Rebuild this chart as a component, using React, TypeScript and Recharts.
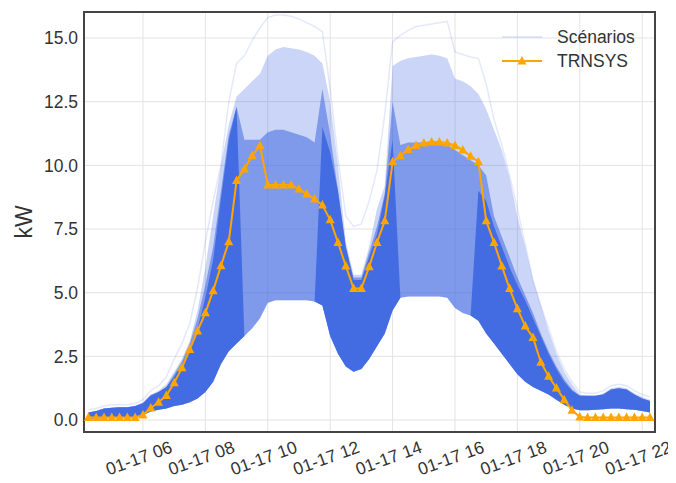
import { ComposedChart, Area, Line, XAxis, YAxis, CartesianGrid, ReferenceArea } from 'recharts'

const FONT = '"Liberation Sans", Arial, sans-serif'
const BLUE = '#4169e1'
const ORANGE = '#ffa500'
const TEXT = '#333'

// quarter-hour samples, 04:15 -> 22:15
const START_HOUR = 4.25
const STEP = 0.25

const X_TICKS = [6, 8, 10, 12, 14, 16, 18, 20, 22]
const Y_TICKS = [0, 2.5, 5, 7.5, 10, 12.5, 15]

// TRNSYS reference run (kW)
const trnsys = [
  0.1, 0.1, 0.1, 0.1,
  0.1, 0.1, 0.1, 0.2,
  0.47, 0.7, 0.96, 1.46,
  2.05, 2.77, 3.5, 4.21,
  5.08, 6.06, 7.0, 9.4,
  9.86, 10.38, 10.78, 9.23,
  9.23, 9.23, 9.23, 9.07,
  8.87, 8.68, 8.44, 7.86,
  6.97, 6.05, 5.16, 5.16,
  6.02, 6.97, 7.82, 10.14,
  10.38, 10.62, 10.78, 10.88,
  10.92, 10.92, 10.88, 10.78,
  10.6, 10.36, 10.14, 7.82,
  6.97, 6.05, 5.16, 4.37,
  3.69, 3.24, 2.27, 1.72,
  1.26, 0.8, 0.38, 0.12,
  0.1, 0.1, 0.1, 0.1,
  0.1, 0.1, 0.1, 0.1,
  0.1,
]

// scenario bundle, read as envelopes: lowest line, top of the solid mass,
// top of the medium-density stripes, top of the striped group, faint outlier
const scenLow = [
  0.05, 0.05, 0.08, 0.08,
  0.1, 0.1, 0.12, 0.2,
  0.33, 0.4, 0.45, 0.55,
  0.6, 0.7, 0.85, 1.1,
  1.5, 2.2, 2.7, 3.0,
  3.3, 3.6, 4.0, 4.6,
  4.7, 4.7, 4.7, 4.7,
  4.7, 4.65, 4.5, 3.3,
  2.6, 2.1, 1.9, 2.0,
  2.4, 2.9, 3.4, 4.3,
  4.8, 4.85, 4.85, 4.85,
  4.85, 4.85, 4.8, 4.4,
  4.2, 4.1, 3.9, 3.4,
  3.0, 2.6, 2.2, 1.8,
  1.5, 1.3, 1.15, 1.0,
  0.8, 0.6, 0.45, 0.38,
  0.38, 0.4, 0.42, 0.45,
  0.45, 0.42, 0.4, 0.35,
  0.3,
]

const denseHigh = [
  0.3, 0.35, 0.45, 0.48,
  0.5, 0.5, 0.55, 0.65,
  0.95, 1.1, 1.3, 1.7,
  2.2, 2.8, 3.6, 4.8,
  6.3, 8.7, 11.0, 12.3,
  3.3, 3.6, 4.0, 4.6,
  4.7, 4.7, 4.7, 4.7,
  4.7, 4.65, 11.5, 10.5,
  9.0, 6.8, 5.5, 5.5,
  6.4, 7.3, 8.8, 11.0,
  4.8, 4.85, 4.85, 4.85,
  4.85, 4.85, 4.8, 4.4,
  4.2, 4.1, 9.0, 8.6,
  7.6, 6.8, 6.0, 5.3,
  4.7, 4.0, 3.3, 2.6,
  2.0, 1.5, 1.15, 0.95,
  0.95, 0.95, 1.0, 1.2,
  1.25, 1.2, 1.0, 0.85,
  0.75,
]

const midHigh = [
  0.3, 0.35, 0.45, 0.48,
  0.5, 0.5, 0.55, 0.68,
  0.98, 1.1, 1.3, 1.8,
  2.3, 3.0, 4.0, 5.3,
  6.8, 9.0, 11.2, 12.3,
  11.0, 11.0, 11.0, 11.3,
  11.4, 11.4, 11.3, 11.2,
  11.1, 10.9, 13.0, 11.2,
  9.0, 6.8, 5.6, 5.6,
  6.6, 7.6, 8.9, 12.5,
  10.8, 10.9, 10.9, 10.9,
  10.9, 10.9, 10.8, 10.6,
  10.4, 10.2, 10.0, 9.6,
  8.0, 7.2, 6.4, 5.6,
  4.9, 4.2, 3.4, 2.7,
  2.1, 1.6, 1.2, 0.95,
  0.95, 0.95, 1.0, 1.2,
  1.25, 1.2, 1.0, 0.85,
  0.75,
]

const scenHigh = [
  0.3, 0.35, 0.45, 0.48,
  0.5, 0.5, 0.55, 0.7,
  1.0, 1.15, 1.4, 1.9,
  2.4, 3.1, 4.3, 6.0,
  8.0, 10.0, 11.6, 12.7,
  13.0, 13.3, 13.6, 14.3,
  14.55, 14.65, 14.6, 14.55,
  14.45, 14.3, 14.0, 12.5,
  10.0, 7.0, 5.7, 5.7,
  6.8, 8.3, 9.2, 13.9,
  14.1, 14.2, 14.25, 14.3,
  14.35, 14.3, 14.2, 13.4,
  13.3, 13.1, 12.8, 12.2,
  11.4, 10.6, 9.5, 8.0,
  6.8, 5.5, 4.5, 3.5,
  2.6, 1.9, 1.4, 1.0,
  0.95, 0.95, 1.05, 1.25,
  1.3, 1.25, 1.05, 0.9,
  0.8,
]

const scenMax = [
  0.4, 0.45, 0.55, 0.6,
  0.6, 0.6, 0.65, 0.8,
  1.15, 1.35, 1.7, 2.4,
  3.0, 3.8, 5.2, 7.0,
  8.6, 10.0, 12.5, 14.0,
  14.3, 14.9, 15.4, 15.8,
  15.9, 15.9, 15.85, 15.75,
  15.6, 15.45, 15.25, 13.0,
  10.3, 8.0, 7.6, 7.7,
  8.6, 9.8, 12.0, 14.85,
  15.1, 15.3, 15.45, 15.5,
  15.55, 15.6, 15.65, 14.45,
  14.35, 14.25, 14.2, 13.2,
  11.8, 10.8, 9.6, 8.3,
  6.9, 5.5, 4.5, 3.6,
  2.7, 2.0, 1.5, 1.1,
  1.05, 1.05, 1.15, 1.35,
  1.4, 1.35, 1.15, 1.0,
  0.9,
]

const data = trnsys.map((v, i) => ({
  t: START_HOUR + i * STEP,
  trnsys: v,
  light: [scenLow[i], scenHigh[i]],
  mid: [scenLow[i], midHigh[i]],
  dense: [scenLow[i], denseHigh[i]],
  max: scenMax[i],
}))

const X_MIN = 4.11
const X_MAX = 22.41
const Y_MIN = -0.47
const Y_MAX = 16.02

function XTick(props: any) {
  const { x, y, payload } = props
  const hh = String(payload.value).padStart(2, '0')
  return (
    <g transform={`translate(${x},${y})`}>
      <text
        transform="translate(-4,26) rotate(-20)"
        textAnchor="middle"
        dominantBaseline="central"
        fontSize={17.5}
        fill={TEXT}
        fontFamily={FONT}
      >
        {`01-17 ${hh}`}
      </text>
    </g>
  )
}

function Triangle({ cx, cy }: { cx: number; cy: number }) {
  if (cx == null || cy == null) return null
  return <polygon points={`${cx},${cy - 5} ${cx - 4.5},${cy + 3.5} ${cx + 4.5},${cy + 3.5}`} fill={ORANGE} />
}

function KwLabel(props: any) {
  const { viewBox } = props
  const cx = viewBox.x + 16
  const cy = viewBox.y + viewBox.height / 2
  return (
    <text
      x={cx}
      y={cy}
      transform={`rotate(-90, ${cx}, ${cy})`}
      textAnchor="middle"
      dominantBaseline="central"
      fontSize={23}
      fill={TEXT}
      fontFamily={FONT}
    >
      kW
    </text>
  )
}

export default function App() {
  return (
    <div style={{ position: 'relative', width: 668, height: 475, fontFamily: FONT }}>
      <ComposedChart width={668} height={475} data={data} margin={{ top: 4, right: 21, bottom: 0, left: 0 }}>
        <CartesianGrid stroke="#e3e3e3" strokeWidth={1} />
        <XAxis
          dataKey="t"
          type="number"
          domain={[X_MIN, X_MAX]}
          ticks={X_TICKS}
          allowDataOverflow
          axisLine={false}
          tickLine={false}
          tickSize={0}
          tickMargin={0}
          height={51}
          interval={0}
          tick={(p: any) => <XTick {...p} />}
        />
        <YAxis
          type="number"
          domain={[Y_MIN, Y_MAX]}
          ticks={Y_TICKS}
          allowDataOverflow
          axisLine={false}
          tickLine={false}
          tickSize={0}
          tickMargin={6}
          width={76}
          tickFormatter={(v: number) => v.toFixed(1)}
          tick={{ fontSize: 17.5, fill: TEXT, fontFamily: FONT }}
          label={{ content: (p: any) => <KwLabel {...p} /> }}
        />
        <Area dataKey="light" type="linear" stroke="none" fill={BLUE} fillOpacity={0.28} isAnimationActive={false} />
        <Area dataKey="mid" type="linear" stroke="none" fill={BLUE} fillOpacity={0.55} isAnimationActive={false} />
        <Area dataKey="dense" type="linear" stroke="none" fill={BLUE} fillOpacity={0.95} isAnimationActive={false} />
        <Line dataKey="max" type="linear" stroke={BLUE} strokeOpacity={0.15} strokeWidth={1.5} dot={false} isAnimationActive={false} />
        <Line
          dataKey="trnsys"
          type="linear"
          stroke={ORANGE}
          strokeWidth={2}
          dot={(p: any) => <Triangle key={`tri-${p.index}`} cx={p.cx} cy={p.cy} />}
          activeDot={false}
          isAnimationActive={false}
        />
        <ReferenceArea x1={X_MIN} x2={X_MAX} y1={Y_MIN} y2={Y_MAX} fill="none" stroke="#444" strokeWidth={2} ifOverflow="visible" />
      </ComposedChart>
      <div style={{ position: 'absolute', left: 494, top: 17, fontSize: 17.5, color: TEXT }}>
        <div style={{ display: 'flex', alignItems: 'center', height: 24 }}>
          <svg width={40} height={24}>
            <line x1={0} x2={40} y1={12} y2={12} stroke={BLUE} strokeOpacity={0.15} strokeWidth={2} />
          </svg>
          <span style={{ marginLeft: 15 }}>Scénarios</span>
        </div>
        <div style={{ display: 'flex', alignItems: 'center', height: 24 }}>
          <svg width={40} height={24}>
            <line x1={0} x2={40} y1={12} y2={12} stroke={ORANGE} strokeWidth={2} />
            <Triangle cx={20} cy={12} />
          </svg>
          <span style={{ marginLeft: 15 }}>TRNSYS</span>
        </div>
      </div>
    </div>
  )
}
